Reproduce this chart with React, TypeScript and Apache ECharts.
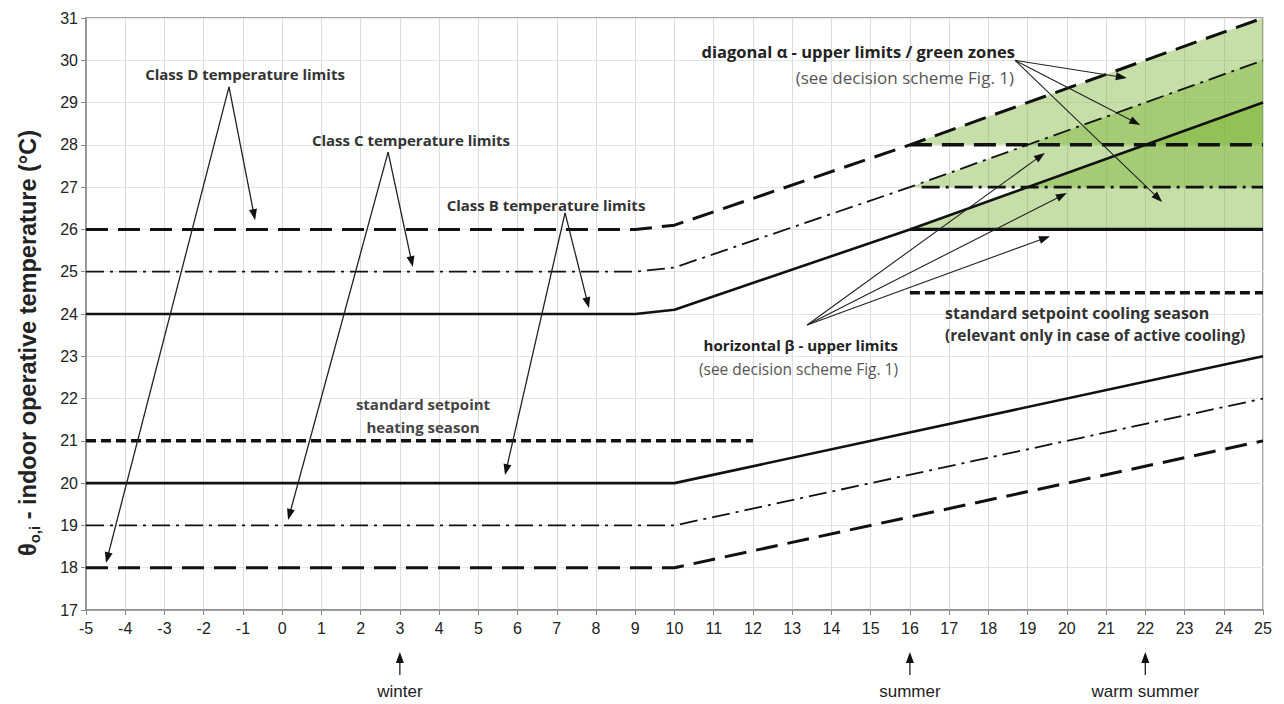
import React, { useEffect, useRef } from "react";
import * as echarts from "echarts";

// ---- data ----
const X_MIN = -5;
const X_MAX = 25;
const Y_MIN = 17;
const Y_MAX = 31;

// upper limits (classes D, C, B)
const UPPER_D: number[][] = [[-5, 26], [9, 26], [10, 26.1], [16, 28], [25, 31]];
const UPPER_C: number[][] = [[-5, 25], [9, 25], [10, 25.1], [16, 27], [25, 30]];
const UPPER_B: number[][] = [[-5, 24], [9, 24], [10, 24.1], [16, 26], [25, 29]];
// lower limits
const LOWER_B: number[][] = [[-5, 20], [10, 20], [25, 23]];
const LOWER_C: number[][] = [[-5, 19], [10, 19], [25, 22]];
const LOWER_D: number[][] = [[-5, 18], [10, 18], [25, 21]];
// horizontal beta upper limits
const HORIZ_D: number[][] = [[16, 28], [25, 28]];
const HORIZ_C: number[][] = [[16.3, 27], [25, 27]];
const HORIZ_B: number[][] = [[16, 26], [25, 26]];
// setpoints
const SETPOINT_HEATING: number[][] = [[-5, 21], [12, 21]];
const SETPOINT_COOLING: number[][] = [[16, 24.5], [25, 24.5]];
// green zones (diagonal alpha)
const ZONE_D: number[][] = [[16, 28], [25, 31], [25, 28]];
const ZONE_C: number[][] = [[16, 27], [25, 30], [25, 27]];
const ZONE_B: number[][] = [[16, 26], [25, 29], [25, 26]];
const ZONES = [ZONE_D, ZONE_C, ZONE_B];

// season markers on x axis
const SEASONS: [number, string][] = [[3, "winter"], [16, "summer"], [22, "warm summer"]];

// annotation arrows: [apex, ...tips] in data units
const ARROWS_D: number[][] = [[-1.355, 29.37], [-0.69, 26.22], [-4.49, 18.11]];
const ARROWS_C: number[][] = [[2.7, 27.83], [3.33, 25.11], [0.15, 19.13]];
const ARROWS_B: number[][] = [[7.21, 26.39], [7.82, 24.14], [5.68, 20.19]];
const ARROWS_ALPHA: number[][] = [[18.68, 30.0], [21.53, 29.58], [21.87, 28.47], [22.43, 26.65]];
const ARROWS_BETA: number[][] = [[13.38, 23.74], [19.44, 27.81], [20.0, 26.86], [19.57, 25.84]];

const FONT_AXIS = "Liberation Sans, Arial, sans-serif";
const FONT_NOTE = "Open Sans, Noto Sans, sans-serif";

export default function App() {
  const ref = useRef<HTMLDivElement>(null);

  useEffect(() => {
    document.body.style.margin = "0";
    if (!ref.current) return;
    const chart = echarts.init(ref.current, undefined, { renderer: "svg" });

    const lineSeries = (
      data: number[][],
      width: number,
      type: any,
      z = 3
    ) => ({
      type: "line",
      data,
      symbol: "none",
      smooth: false,
      silent: true,
      z,
      lineStyle: { color: "#111", width, type, cap: "butt" },
    });

    const DASH_D = [22, 10];
    const DASH_C = [18, 6, 3, 6];
    const DASH_SET = [10, 5];

    const option: any = {
      animation: false,
      backgroundColor: "#fff",
      grid: {
        left: 86,
        right: 21,
        top: 18,
        bottom: 94,
        show: true,
        borderColor: "#8a8a8a",
        borderWidth: 1.5,
      },
      xAxis: {
        type: "value",
        min: X_MIN,
        max: X_MAX,
        interval: 1,
        axisLine: { show: true, onZero: false, lineStyle: { color: "#8a8a8a", width: 1.5 } },
        axisTick: { show: true, length: 5, lineStyle: { color: "#8a8a8a" } },
        axisLabel: { fontFamily: FONT_AXIS, fontSize: 16, color: "#222", margin: 10 },
        splitLine: { show: true, lineStyle: { color: "#dcdcdc", width: 1 } },
      },
      yAxis: {
        type: "value",
        min: Y_MIN,
        max: Y_MAX,
        interval: 1,
        axisLine: { show: true, onZero: false, lineStyle: { color: "#8a8a8a", width: 1.5 } },
        axisTick: { show: true, length: 5, lineStyle: { color: "#8a8a8a" } },
        axisLabel: { fontFamily: FONT_AXIS, fontSize: 16, color: "#222", margin: 8 },
        splitLine: { show: true, lineStyle: { color: "#e4e4e4", width: 1 } },
      },
      series: [
        {
          type: "custom",
          silent: true,
          z: 1,
          data: ZONES.map((_, i) => [i]),
          encode: { x: -1, y: -1 },
          renderItem: (params: any, api: any) => {
            const zone = ZONES[params.dataIndex];
            const pts = zone.map((p) => api.coord(p));
            return {
              type: "polygon",
              shape: { points: pts },
              style: { fill: "rgba(118,178,48,0.42)", stroke: "none" },
            };
          },
        },
        lineSeries(UPPER_D, 3, DASH_D),
        lineSeries(UPPER_C, 1.8, DASH_C),
        lineSeries(UPPER_B, 2.6, "solid"),
        lineSeries(LOWER_B, 2.6, "solid"),
        lineSeries(LOWER_C, 1.8, DASH_C),
        lineSeries(LOWER_D, 3, DASH_D),
        lineSeries(HORIZ_D, 3.5, DASH_D),
        lineSeries(HORIZ_C, 2.6, DASH_C),
        lineSeries(HORIZ_B, 3.2, "solid"),
        lineSeries(SETPOINT_HEATING, 3.5, DASH_SET),
        lineSeries(SETPOINT_COOLING, 3.5, DASH_SET),
      ],
    };

    chart.setOption(option);

    const toPx = (p: number[]) => chart.convertToPixel({ gridIndex: 0 }, p) as number[];

    const graphics: any[] = [];

    const arrowHead = (from: number[], to: number[], len = 11, half = 4) => {
      const dx = to[0] - from[0];
      const dy = to[1] - from[1];
      const L = Math.sqrt(dx * dx + dy * dy) || 1;
      const ux = dx / L;
      const uy = dy / L;
      const bx = to[0] - ux * len;
      const by = to[1] - uy * len;
      return {
        type: "polygon",
        silent: true,
        z: 20,
        shape: {
          points: [
            [to[0], to[1]],
            [bx - uy * half, by + ux * half],
            [bx + uy * half, by - ux * half],
          ],
        },
        style: { fill: "#111" },
      };
    };

    const addArrows = (set: number[][], width = 1.3) => {
      const apex = toPx(set[0]);
      for (let i = 1; i < set.length; i++) {
        const tip = toPx(set[i]);
        const dx = tip[0] - apex[0];
        const dy = tip[1] - apex[1];
        const L = Math.sqrt(dx * dx + dy * dy) || 1;
        const end = [tip[0] - (dx / L) * 8, tip[1] - (dy / L) * 8];
        graphics.push({
          type: "line",
          silent: true,
          z: 20,
          shape: { x1: apex[0], y1: apex[1], x2: end[0], y2: end[1] },
          style: { stroke: "#222", lineWidth: width },
        });
        graphics.push(arrowHead(apex, tip));
      }
    };

    addArrows(ARROWS_D);
    addArrows(ARROWS_C);
    addArrows(ARROWS_B);
    addArrows(ARROWS_ALPHA, 1.1);
    addArrows(ARROWS_BETA, 1.1);

    const note = (
      text: string,
      x: number,
      y: number,
      opts: { size?: number; weight?: any; color?: string; align?: string } = {}
    ) => {
      graphics.push({
        type: "text",
        silent: true,
        z: 30,
        x,
        y,
        style: {
          text,
          fontFamily: FONT_NOTE,
          fontSize: opts.size ?? 15,
          fontWeight: opts.weight ?? "bold",
          fill: opts.color ?? "#333",
          align: opts.align ?? "center",
          verticalAlign: "middle",
        },
      });
    };

    note("Class D temperature limits", 245, 74);
    note("Class C temperature limits", 411, 140);
    note("Class B temperature limits", 546, 205);
    note("standard setpoint", 423, 404, { color: "#444" });
    note("heating season", 423, 427, { color: "#444" });
    note("diagonal α - upper limits / green zones", 1015, 51, { size: 16.5, color: "#222", align: "right" });
    note("(see decision scheme Fig. 1)", 1014, 77, { size: 17, weight: "normal", color: "#555", align: "right" });
    note("horizontal β - upper limits", 898, 345, { size: 15, color: "#222", align: "right" });
    note("(see decision scheme Fig. 1)", 898, 369, { size: 15.5, weight: "normal", color: "#555", align: "right" });
    note("standard setpoint cooling season", 945, 313, { size: 16, color: "#333", align: "left" });
    note("(relevant only in case of active cooling)", 945, 335, { size: 15.5, color: "#333", align: "left" });

    // season markers
    SEASONS.forEach(([v, label]) => {
      const px = toPx([v, Y_MIN])[0];
      graphics.push({
        type: "line",
        silent: true,
        shape: { x1: px, y1: 662, x2: px, y2: 675 },
        style: { stroke: "#222", lineWidth: 1.3 },
      });
      graphics.push({
        type: "polygon",
        silent: true,
        shape: { points: [[px, 652], [px - 4, 663], [px + 4, 663]] },
        style: { fill: "#111" },
      });
      graphics.push({
        type: "text",
        silent: true,
        x: px,
        y: 691,
        style: {
          text: label,
          fontFamily: FONT_AXIS,
          fontSize: 17,
          fill: "#222",
          align: "center",
          verticalAlign: "middle",
        },
      });
    });

    // y-axis title
    graphics.push({
      type: "text",
      silent: true,
      x: 28,
      y: 343,
      rotation: Math.PI / 2,
      style: {
        text: "{a|θ}{s|o,i}{a| - indoor operative temperature (°C)}",
        align: "center",
        verticalAlign: "middle",
        rich: {
          a: { fontFamily: FONT_AXIS, fontSize: 23.5, fontWeight: "bold", fill: "#222" },
          s: {
            fontFamily: FONT_AXIS,
            fontSize: 15,
            fontWeight: "bold",
            fill: "#222",
            padding: [12, 0, 0, 0],
          },
        },
      },
    });

    chart.setOption({ graphic: graphics });

    return () => {
      chart.dispose();
    };
  }, []);

  return <div ref={ref} style={{ width: 1284, height: 704 }} />;
}
